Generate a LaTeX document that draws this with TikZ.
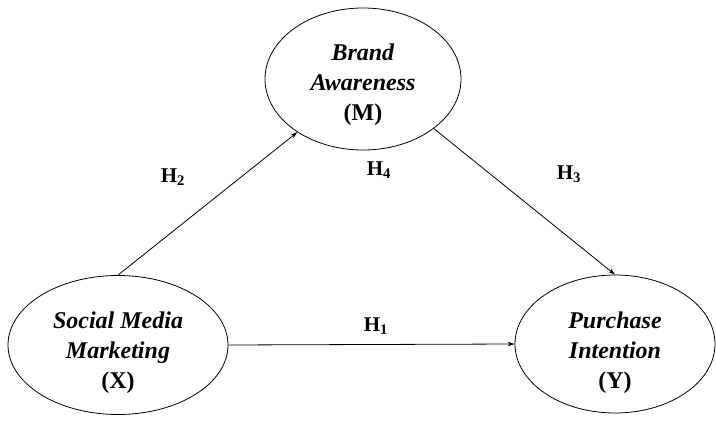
\documentclass[tikz,border=0pt]{standalone}
\usepackage{fontspec}
\setmainfont{Liberation Serif}
\usetikzlibrary{arrows.meta,shapes.geometric}
\begin{document}
\begin{tikzpicture}[x=1pt,y=-1pt,
  construct/.style={draw,ellipse,inner sep=0pt,line width=0.8pt},
  ctext/.style={align=center,inner sep=0pt,font=\fontsize{24}{30}\selectfont\bfseries},
  path/.style={draw,line width=0.8pt,-{Stealth[length=7pt,width=4.5pt]}},
  hlabel/.style={font=\fontsize{21}{24}\selectfont\bfseries}]
\useasboundingbox (0,0) rectangle (716,423);
\node[construct,minimum width=196pt,minimum height=142pt] (M) at (363,79) {};
\node[construct,minimum width=220pt,minimum height=139pt] (X) at (118,345) {};
\node[construct,minimum width=200pt,minimum height=138pt] (Y) at (615,344) {};
\node[ctext] (Mt) at ([yshift=-6pt]M.center) {\textit{Brand}\\\textit{Awareness}\\(M)};
\node[ctext] (Xt) at ([yshift=-8pt]X.center) {\textit{Social Media}\\\textit{Marketing}\\(X)};
\node[ctext] (Yt) at ([yshift=-9pt]Y.center) {\textit{Purchase}\\\textit{Intention}\\(Y)};
\draw[path] (X.north) -- (M.219);
\draw[path] (M.325) -- (Y.north);
\draw[path] (X.east) -- (Y.west);
\node[hlabel] (h2) at (173,177) {H\textsubscript{2}};
\node[hlabel] (h4) at (379,170) {H\textsubscript{4}};
\node[hlabel] (h3) at (569,174) {H\textsubscript{3}};
\node[hlabel] (h1) at (376,326) {H\textsubscript{1}};
\end{tikzpicture}
\end{document}
